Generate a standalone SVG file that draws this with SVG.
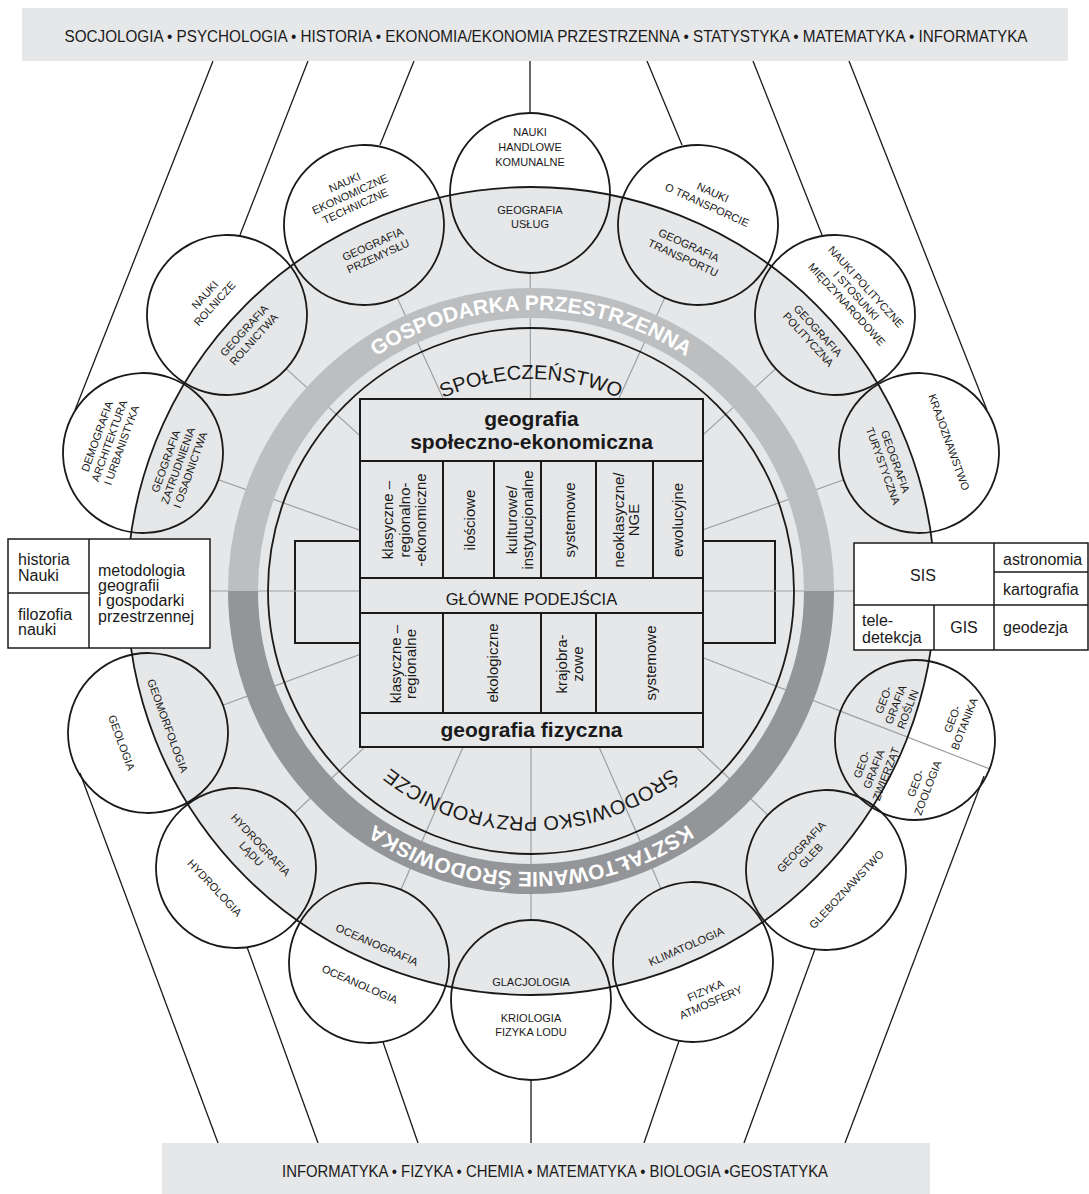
<svg xmlns="http://www.w3.org/2000/svg" width="1089" height="1194" viewBox="0 0 1089 1194">
<style>
text{font-family:"Liberation Sans",Arial,sans-serif;fill:#1a1a1a}
.bar{fill:#e6e7e8}
.bt{font-size:16px;text-anchor:middle}
.ln{stroke:#1a1a1a;stroke-width:1.3;fill:none}
.sp{stroke:#9d9fa2;stroke-width:1.2;fill:none}
.cw{fill:#fff}
.cg{fill:#e6e7e8}
.co{fill:none;stroke:#1a1a1a;stroke-width:1.8}
.ct{font-size:11px;text-anchor:middle;dominant-baseline:central}
.blk{fill:#e6e7e8;stroke:#1a1a1a;stroke-width:2}
.bl{stroke:#1a1a1a;stroke-width:2}
.cell{font-size:15px;text-anchor:middle;dominant-baseline:central}
.box{fill:#fff;stroke:#1a1a1a;stroke-width:1.5}
.bx{font-size:16px}
.band{font-size:21px;font-weight:bold;fill:#fff;text-anchor:middle}
.inn{font-size:20px;text-anchor:middle}
.ttl{font-size:21px;font-weight:bold;text-anchor:middle}
</style>
<defs>
<clipPath id="discClip"><circle cx="531" cy="591" r="404"/></clipPath>
<path id="bandPath" d="M250,591 A281,281 0 1,1 812,591 A281,281 0 1,1 250,591"/>
<path id="innerTop" d="M319,591 A212,212 0 1,1 743,591 A212,212 0 1,1 319,591"/>
<path id="innerBot" d="M305,591 A226,226 0 1,1 757,591 A226,226 0 1,1 305,591"/>
<circle id="cc" r="80"/>
</defs>

<g id="disc-fill">
<circle cx="531" cy="591" r="404" fill="#e6e7e8"/>
<rect x="295" y="541" width="480" height="102" class="blk" stroke-width="1.5"/>
</g>

<g id="spokes" class="sp">
<line x1="531" y1="591" x2="143" y2="453"/>
<line x1="531" y1="591" x2="227" y2="315"/>
<line x1="531" y1="591" x2="364" y2="225"/>
<line x1="531" y1="591" x2="530" y2="193"/>
<line x1="531" y1="591" x2="698" y2="225"/>
<line x1="531" y1="591" x2="835" y2="315"/>
<line x1="531" y1="591" x2="919" y2="453"/>
<line x1="531" y1="591" x2="915" y2="740"/>
<line x1="531" y1="591" x2="826" y2="870"/>
<line x1="531" y1="591" x2="693" y2="962"/>
<line x1="531" y1="591" x2="531" y2="1000"/>
<line x1="531" y1="591" x2="369" y2="963"/>
<line x1="531" y1="591" x2="236" y2="868"/>
<line x1="531" y1="591" x2="148" y2="733"/>
<line x1="210" y1="591" x2="854" y2="591"/>
</g>

<g id="circle-fills">
<g class="cw">
<use href="#cc" x="143" y="453"/><use href="#cc" x="227" y="315"/><use href="#cc" x="364" y="225"/><use href="#cc" x="530" y="193"/><use href="#cc" x="698" y="225"/><use href="#cc" x="835" y="315"/><use href="#cc" x="919" y="453"/><use href="#cc" x="915" y="740"/><use href="#cc" x="826" y="870"/><use href="#cc" x="693" y="962"/><use href="#cc" x="531" y="1000"/><use href="#cc" x="369" y="963"/><use href="#cc" x="236" y="868"/><use href="#cc" x="148" y="733"/>
</g>
<g class="cg" clip-path="url(#discClip)">
<use href="#cc" x="143" y="453"/><use href="#cc" x="227" y="315"/><use href="#cc" x="364" y="225"/><use href="#cc" x="530" y="193"/><use href="#cc" x="698" y="225"/><use href="#cc" x="835" y="315"/><use href="#cc" x="919" y="453"/><use href="#cc" x="915" y="740"/><use href="#cc" x="826" y="870"/><use href="#cc" x="693" y="962"/><use href="#cc" x="531" y="1000"/><use href="#cc" x="369" y="963"/><use href="#cc" x="236" y="868"/><use href="#cc" x="148" y="733"/>
</g>
<line class="sp" x1="840.4" y1="711.1" x2="989.6" y2="768.9"/>
</g>

<g id="disc-outline">
<circle cx="531" cy="591" r="404" fill="none" stroke="#1a1a1a" stroke-width="1.8"/>
</g>

<g id="band">
<path d="M243,591 A288,288 0 0,1 819,591" fill="none" stroke="#bcbec0" stroke-width="30"/>
<path d="M819,591 A288,288 0 0,1 243,591" fill="none" stroke="#939598" stroke-width="30"/>
<text class="band"><textPath href="#bandPath" startOffset="25%">GOSPODARKA PRZESTRZENNA</textPath></text>
<text class="band"><textPath href="#bandPath" startOffset="75%">KSZTAŁTOWANIE ŚRODOWISKA</textPath></text>
</g>

<g id="inner">
<circle cx="531" cy="591" r="263" fill="none" stroke="#1a1a1a" stroke-width="1.8"/>
<text class="inn"><textPath href="#innerTop" startOffset="25%">SPOŁECZEŃSTWO</textPath></text>
<text class="inn"><textPath href="#innerBot" startOffset="75%">ŚRODOWISKO PRZYRODNICZE</textPath></text>
</g>

<g id="central-block">
<rect x="360" y="399" width="343" height="348" class="blk"/>
<g class="bl">
<line x1="360" y1="461" x2="703" y2="461"/>
<line x1="360" y1="578" x2="703" y2="578"/>
<line x1="360" y1="613" x2="703" y2="613"/>
<line x1="360" y1="713" x2="703" y2="713"/>
<line x1="443" y1="461" x2="443" y2="578"/>
<line x1="494" y1="461" x2="494" y2="578"/>
<line x1="541" y1="461" x2="541" y2="578"/>
<line x1="596" y1="461" x2="596" y2="578"/>
<line x1="653" y1="461" x2="653" y2="578"/>
<line x1="443" y1="613" x2="443" y2="713"/>
<line x1="541" y1="613" x2="541" y2="713"/>
<line x1="596" y1="613" x2="596" y2="713"/>
</g>
<text class="ttl" x="531.5" y="426">geografia</text>
<text class="ttl" x="531.5" y="449">społeczno-ekonomiczna</text>
<text x="531.5" y="605" font-size="16.5" text-anchor="middle">GŁÓWNE PODEJŚCIA</text>
<text class="ttl" x="531.5" y="737">geografia fizyczna</text>
<g class="cell">
<text transform="translate(387,520) rotate(-90)">klasyczne –</text>
<text transform="translate(404,520) rotate(-90)">regionalno-</text>
<text transform="translate(420,520) rotate(-90)">-ekonomiczne</text>
<text transform="translate(469,520) rotate(-90)">ilościowe</text>
<text transform="translate(511,520) rotate(-90)">kulturowe/</text>
<text transform="translate(527,520) rotate(-90)">instytucjonalne</text>
<text transform="translate(569,520) rotate(-90)">systemowe</text>
<text transform="translate(618,520) rotate(-90)">neoklasyczne/</text>
<text transform="translate(633,520) rotate(-90)">NGE</text>
<text transform="translate(677,520) rotate(-90)">ewolucyjne</text>
<text transform="translate(395,664) rotate(-90)">klasyczne –</text>
<text transform="translate(410,664) rotate(-90)">regionalne</text>
<text transform="translate(492,663) rotate(-90)">ekologiczne</text>
<text transform="translate(561,664) rotate(-90)">krajobra-</text>
<text transform="translate(577,664) rotate(-90)">zowe</text>
<text transform="translate(650,663) rotate(-90)">systemowe</text>
</g>
</g>

<g id="node-A" transform="translate(143,453) rotate(-70.2)">
<use href="#cc" class="co"/>
<text class="ct" y="-49">DEMOGRAFIA</text><text class="ct" y="-36">ARCHITEKTURA</text><text class="ct" y="-23">I URBANISTYKA</text>
<text class="ct" y="24">GEOGRAFIA</text><text class="ct" y="37">ZATRUDNIENIA</text><text class="ct" y="50">I OSADNICTWA</text>
</g>
<g id="node-B" transform="translate(227,315) rotate(-47.6)">
<use href="#cc" class="co"/>
<text class="ct" y="-30">NAUKI</text><text class="ct" y="-17">ROLNICZE</text>
<text class="ct" y="23">GEOGRAFIA</text><text class="ct" y="36">ROLNICTWA</text>
</g>
<g id="node-C" transform="translate(364,225) rotate(-24.4)">
<use href="#cc" class="co"/>
<text class="ct" y="-47">NAUKI</text><text class="ct" y="-34">EKONOMICZNE</text><text class="ct" y="-21">TECHNICZNE</text>
<text class="ct" y="21">GEOGRAFIA</text><text class="ct" y="34">PRZEMYSŁU</text>
</g>
<g id="node-D" transform="translate(530,193)">
<use href="#cc" class="co"/>
<text class="ct" y="-61">NAUKI</text><text class="ct" y="-46">HANDLOWE</text><text class="ct" y="-31">KOMUNALNE</text>
<text class="ct" y="17">GEOGRAFIA</text><text class="ct" y="31">USŁUG</text>
</g>
<g id="node-E" transform="translate(698,225) rotate(24.4)">
<use href="#cc" class="co"/>
<text class="ct" y="-36">NAUKI</text><text class="ct" y="-22">O TRANSPORCIE</text>
<text class="ct" y="22">GEOGRAFIA</text><text class="ct" y="36">TRANSPORTU</text>
</g>
<g id="node-F" transform="translate(835,315) rotate(47.6)">
<use href="#cc" class="co"/>
<text class="ct" y="-42">NAUKI POLITYCZNE</text><text class="ct" y="-29">I STOSUNKI</text><text class="ct" y="-16">MIĘDZYNARODOWE</text>
<text class="ct" y="23">GEOGRAFIA</text><text class="ct" y="36">POLITYCZNA</text>
</g>
<g id="node-G" transform="translate(919,453) rotate(70.2)">
<use href="#cc" class="co"/>
<text class="ct" y="-32">KRAJOZNAWSTWO</text>
<text class="ct" y="25">GEOGRAFIA</text><text class="ct" y="38">TURYSTYCZNA</text>
</g>
<g id="node-H" transform="translate(915,740) rotate(-68.8)">
<use href="#cc" class="co"/>
<text class="ct" x="26" y="-44">GEO-</text><text class="ct" x="26" y="-31">GRAFIA</text><text class="ct" x="26" y="-18">ROŚLIN</text>
<text class="ct" x="-42" y="-41">GEO-</text><text class="ct" x="-42" y="-28">GRAFIA</text><text class="ct" x="-42" y="-15">ZWIERZĄT</text>
<text class="ct" x="33" y="27">GEO-</text><text class="ct" x="33" y="40">BOTANIKA</text>
<text class="ct" x="-40" y="16">GEO-</text><text class="ct" x="-40" y="29">ZOOLOGIA</text>
</g>
<g id="node-I" transform="translate(826,870) rotate(-46.8)">
<use href="#cc" class="co"/>
<text class="ct" y="-34">GEOGRAFIA</text><text class="ct" y="-21">GLEB</text>
<text class="ct" y="28">GLEBOZNAWSTWO</text>
</g>
<g id="node-J" transform="translate(693,962) rotate(-23.7)">
<use href="#cc" class="co"/>
<text class="ct" y="-17">KLIMATOLOGIA</text>
<text class="ct" y="31">FIZYKA</text><text class="ct" y="44">ATMOSFERY</text>
</g>
<g id="node-K" transform="translate(531,1000)">
<use href="#cc" class="co"/>
<text class="ct" y="-18">GLACJOLOGIA</text>
<text class="ct" y="18">KRIOLOGIA</text><text class="ct" y="32">FIZYKA LODU</text>
</g>
<g id="node-L" transform="translate(369,963) rotate(23.6)">
<use href="#cc" class="co"/>
<text class="ct" y="-20">OCEANOGRAFIA</text>
<text class="ct" y="23">OCEANOLOGIA</text>
</g>
<g id="node-M" transform="translate(236,868) rotate(46.9)">
<use href="#cc" class="co"/>
<text class="ct" y="-34">HYDROGRAFIA</text><text class="ct" y="-21">LĄDU</text>
<text class="ct" y="29">HYDROLOGIA</text>
</g>
<g id="node-N" transform="translate(148,733) rotate(69.9)">
<use href="#cc" class="co"/>
<text class="ct" y="-21">GEOMORFOLOGIA</text>
<text class="ct" y="28">GEOLOGIA</text>
</g>

<g id="connectors" class="ln">
<line x1="213" y1="61" x2="75" y2="410"/>
<line x1="308" y1="61" x2="240" y2="235"/>
<line x1="414" y1="61" x2="380" y2="145"/>
<line x1="530" y1="61" x2="530" y2="113"/>
<line x1="647" y1="61" x2="682" y2="145"/>
<line x1="753" y1="61" x2="822" y2="235"/>
<line x1="849" y1="61" x2="987" y2="410"/>
<line x1="80" y1="773" x2="218" y2="1143"/>
<line x1="247" y1="947" x2="318" y2="1143"/>
<line x1="383" y1="1042" x2="418" y2="1143"/>
<line x1="531" y1="1080" x2="531" y2="1143"/>
<line x1="679" y1="1041" x2="644" y2="1143"/>
<line x1="815" y1="949" x2="744" y2="1143"/>
<line x1="984" y1="776" x2="845" y2="1143"/>
</g>

<g id="box-left">
<rect x="8" y="539" width="202" height="109" class="box"/>
<line x1="89" y1="539" x2="89" y2="648" stroke="#1a1a1a" stroke-width="1.5"/>
<line x1="8" y1="593" x2="89" y2="593" stroke="#1a1a1a" stroke-width="1.5"/>
<text class="bx" x="18" y="565">historia</text>
<text class="bx" x="18" y="581">Nauki</text>
<text class="bx" x="18" y="620">filozofia</text>
<text class="bx" x="18" y="635">nauki</text>
<text class="bx" x="98" y="576">metodologia</text>
<text class="bx" x="98" y="591">geografii</text>
<text class="bx" x="98" y="606">i gospodarki</text>
<text class="bx" x="98" y="621.5">przestrzennej</text>
</g>

<g id="box-right">
<rect x="854" y="543" width="234" height="107" class="box"/>
<g stroke="#1a1a1a" stroke-width="1.5">
<line x1="854" y1="605" x2="1088" y2="605"/>
<line x1="994" y1="543" x2="994" y2="650"/>
<line x1="994" y1="572" x2="1088" y2="572"/>
<line x1="934" y1="605" x2="934" y2="650"/>
</g>
<text class="bx" x="923" y="581" text-anchor="middle">SIS</text>
<text class="bx" x="1003" y="565">astronomia</text>
<text class="bx" x="1003" y="595">kartografia</text>
<text class="bx" x="862" y="626">tele-</text>
<text class="bx" x="862" y="643">detekcja</text>
<text class="bx" x="964" y="633" text-anchor="middle">GIS</text>
<text class="bx" x="1003" y="633">geodezja</text>
</g>

<g id="top-bar">
<rect x="22" y="8" width="1046" height="53" class="bar"/>
<text class="bt" x="546" y="42" textLength="963" lengthAdjust="spacingAndGlyphs">SOCJOLOGIA • PSYCHOLOGIA • HISTORIA • EKONOMIA/EKONOMIA PRZESTRZENNA • STATYSTYKA • MATEMATYKA • INFORMATYKA</text>
</g>
<g id="bottom-bar">
<rect x="162" y="1143" width="768" height="51" class="bar"/>
<text class="bt" x="555" y="1177" textLength="546" lengthAdjust="spacingAndGlyphs">INFORMATYKA • FIZYKA • CHEMIA • MATEMATYKA • BIOLOGIA •GEOSTATYKA</text>
</g>
</svg>
